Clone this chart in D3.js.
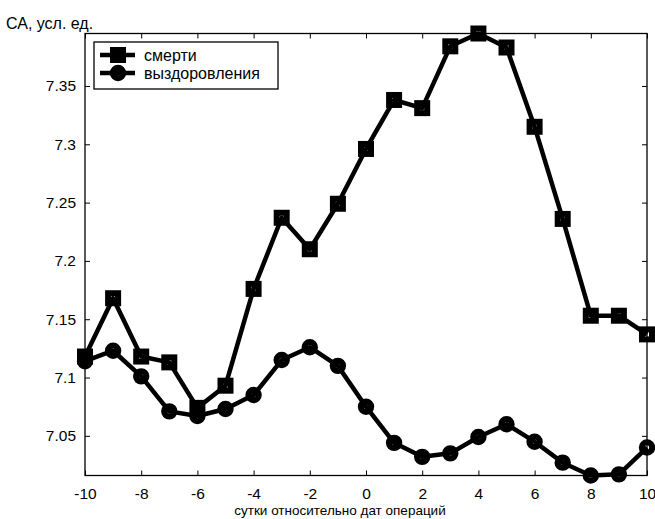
<!DOCTYPE html>
<html>
<head>
<meta charset="utf-8">
<script src="https://cdn.jsdelivr.net/npm/d3@7"></script>
<style>
  body { margin: 0; background: #fff; }
  svg { display: block; font-family: Arial, "Liberation Sans", sans-serif; }
</style>
</head>
<body>
<svg width="655" height="519"></svg>
<script>
const days = [-10,-9,-8,-7,-6,-5,-4,-3,-2,-1,0,1,2,3,4,5,6,7,8,9,10];
const deaths = [7.118,7.168,7.118,7.113,7.074,7.093,7.176,7.237,7.210,7.249,7.296,7.338,7.331,7.384,7.395,7.383,7.315,7.236,7.153,7.153,7.137];
const recoveries = [7.114,7.123,7.101,7.071,7.067,7.073,7.085,7.115,7.126,7.110,7.075,7.044,7.032,7.035,7.049,7.060,7.045,7.027,7.016,7.017,7.040];
const xTicks = [-10,-8,-6,-4,-2,0,2,4,6,8,10];
const yTicks = [7.05,7.1,7.15,7.2,7.25,7.3,7.35];
const seriesNames = ['смерти', 'выздоровления'];
const yLabel = 'СА, усл. ед.';
const xLabel = 'сутки относительно дат операций';

const margin = {top: 33.5, right: 8, bottom: 43.5, left: 85};
const W = 655, H = 519;
const w = W - margin.left - margin.right;
const h = H - margin.top - margin.bottom;

const svg = d3.select('svg');
const g = svg.append('g').attr('transform', `translate(${margin.left},${margin.top})`);

const x = d3.scaleLinear().domain([-10, 10]).range([0, w]);
const y = d3.scaleLinear().domain([7.016, 7.395]).range([h, 0]);

// axes: matlab style, ticks inward on all four sides
function styleAxis(sel) {
  sel.select('.domain').remove();
  sel.selectAll('.tick line').attr('stroke', '#000').attr('stroke-width', 1);
  sel.selectAll('.tick text').attr('fill', '#000').style('font-size', '15.5px');
}

g.append('g')
  .attr('transform', `translate(0,${h})`)
  .call(d3.axisBottom(x).tickValues(xTicks).tickSizeInner(-5).tickPadding(12).tickFormat(d => String(d)))
  .call(styleAxis);
g.append('g')
  .call(d3.axisTop(x).tickValues(xTicks).tickSizeInner(-5).tickFormat(''))
  .call(styleAxis);
g.append('g')
  .call(d3.axisLeft(y).tickValues(yTicks).tickSizeInner(-5).tickPadding(9).tickFormat(d => String(+d.toFixed(2))))
  .call(styleAxis);
g.append('g')
  .attr('transform', `translate(${w},0)`)
  .call(d3.axisRight(y).tickValues(yTicks).tickSizeInner(-5).tickFormat(''))
  .call(styleAxis);

g.append('rect')
  .attr('width', w).attr('height', h)
  .attr('fill', 'none').attr('stroke', '#000').attr('stroke-width', 1.3);

const line = d3.line().x(d => x(d[0])).y(d => y(d[1]));

function drawSeries(vals, marker) {
  const pts = days.map((d, i) => [d, vals[i]]);
  g.append('path')
    .datum(pts)
    .attr('d', line)
    .attr('fill', 'none')
    .attr('stroke', '#000')
    .attr('stroke-width', 4.5)
    .attr('stroke-linejoin', 'round');
  const m = g.append('g').selectAll()
    .data(pts)
    .enter();
  if (marker === 'square') {
    m.append('rect')
      .attr('x', d => x(d[0]) - 5).attr('y', d => y(d[1]) - 5)
      .attr('width', 10).attr('height', 10)
      .attr('fill', 'none').attr('stroke', '#000').attr('stroke-width', 6);
  } else {
    m.append('circle')
      .attr('cx', d => x(d[0])).attr('cy', d => y(d[1]))
      .attr('r', 5.2)
      .attr('fill', 'none').attr('stroke', '#000').attr('stroke-width', 6);
  }
}

drawSeries(deaths, 'square');
drawSeries(recoveries, 'circle');

// legend
const lg = svg.append('g').attr('transform', 'translate(94,42)');
lg.append('rect').attr('width', 184).attr('height', 47)
  .attr('fill', '#fff').attr('stroke', '#000').attr('stroke-width', 1.3);
seriesNames.forEach(function(name, i) {
  const ry = 13 + i * 18;
  lg.append('line').attr('x1', 6).attr('x2', 41).attr('y1', ry).attr('y2', ry)
    .attr('stroke', '#000').attr('stroke-width', 4.5);
  if (i === 0) {
    lg.append('rect').attr('x', 19).attr('y', ry - 5).attr('width', 10).attr('height', 10)
      .attr('fill', 'none').attr('stroke', '#000').attr('stroke-width', 6);
  } else {
    lg.append('circle').attr('cx', 24).attr('cy', ry).attr('r', 5.2)
      .attr('fill', 'none').attr('stroke', '#000').attr('stroke-width', 6);
  }
  lg.append('text').attr('x', 50).attr('y', ry + 6)
    .style('font-size', '16px').text(name);
});

svg.append('text').attr('x', 6).attr('y', 29).style('font-size', '16px').text(yLabel);
svg.append('text').attr('x', 340).attr('y', 515).attr('text-anchor', 'middle')
  .style('font-size', '13.5px').text(xLabel);
</script>
</body>
</html>
